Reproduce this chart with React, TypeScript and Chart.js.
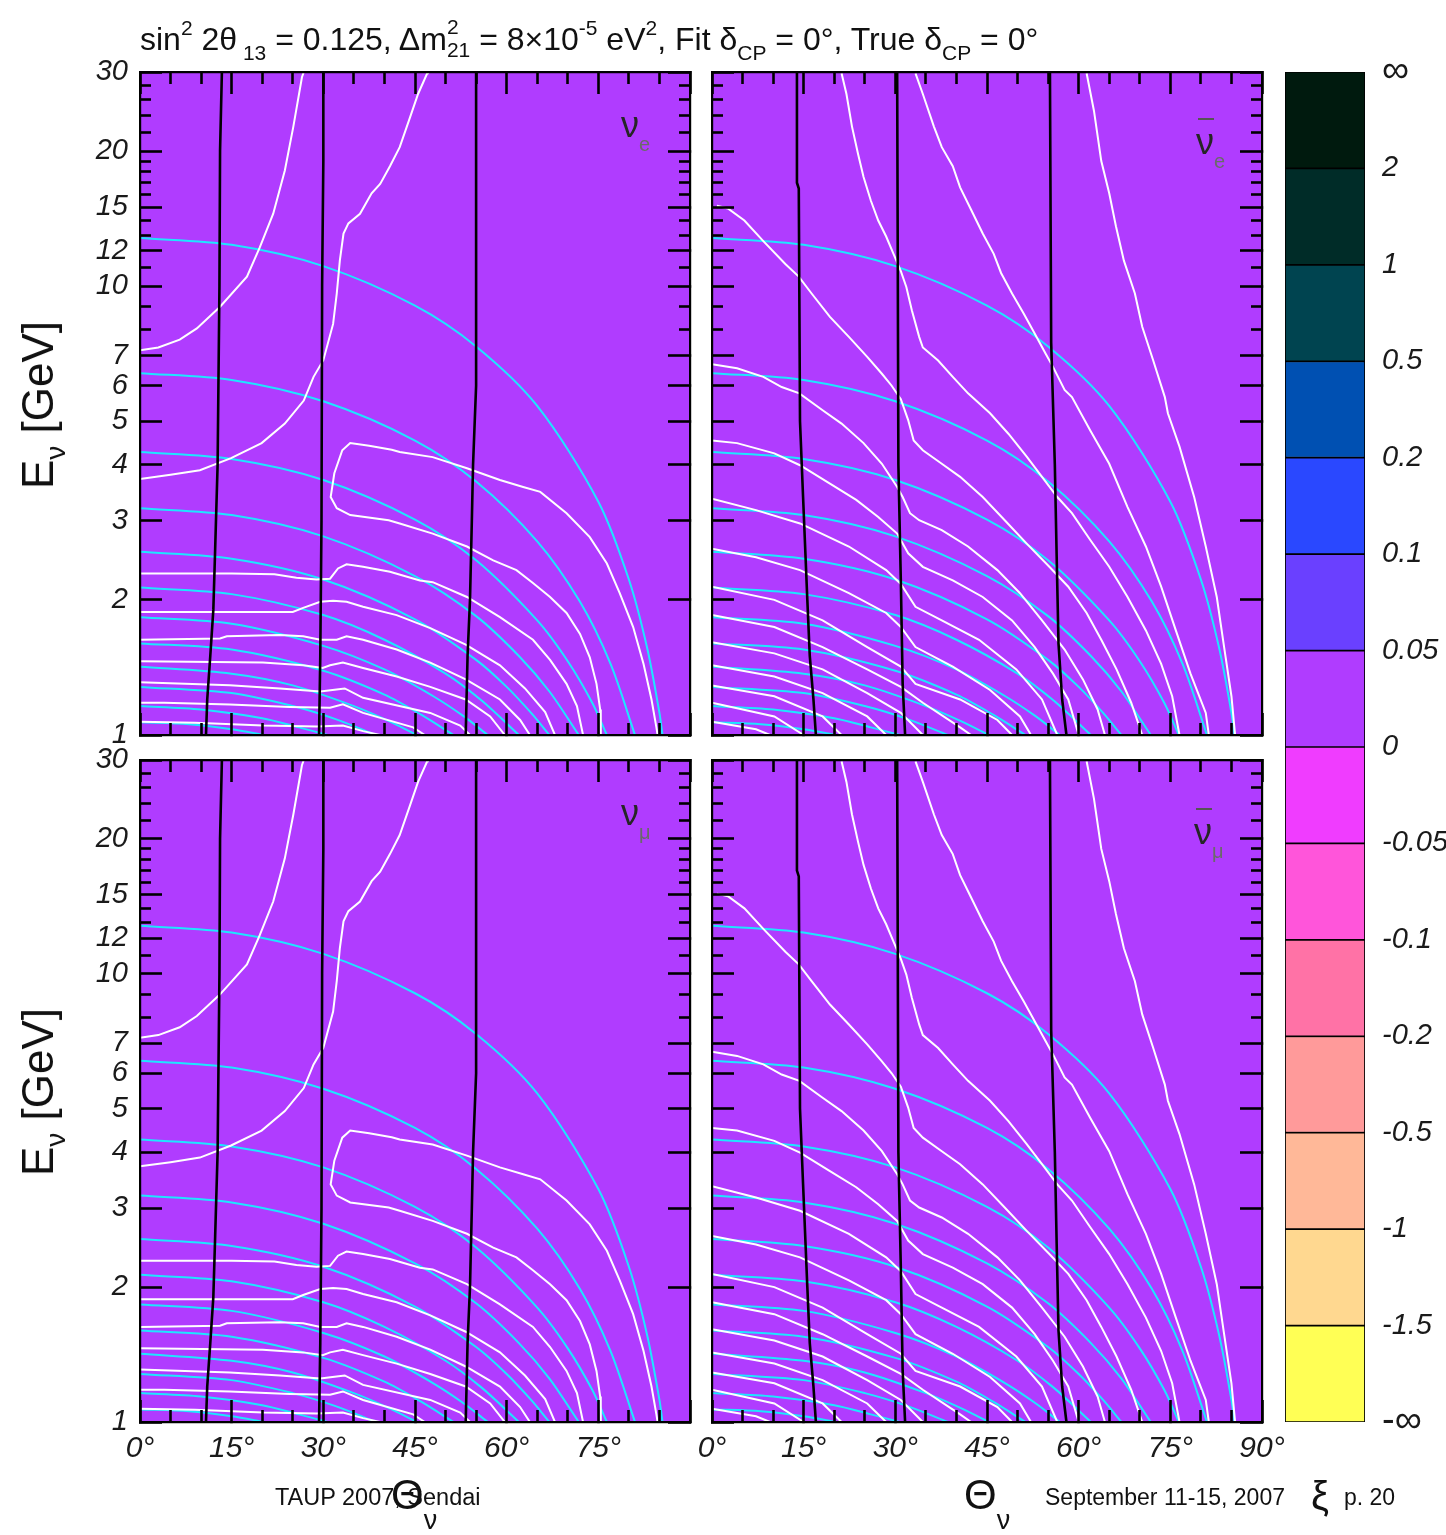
import React, { useEffect, useRef } from "react";
import { Chart, registerables } from "chart.js";

Chart.register(...registerables);

type Pt = [number, number];

const FONT = "'Liberation Sans', Helvetica, Arial, sans-serif";
const PURPLE = "#b03cff";
const CYAN = "#1ee6ff";
const WHITE = "#ffffff";
const BLACK = "#000000";

// ---------- axis ticks ----------
const Y_MAJOR_TICKS = [1, 2, 3, 4, 5, 6, 7, 10, 12, 15, 20, 30];
const Y_MINOR_TICKS = [8, 9, 11, 13, 14, 16, 17, 18, 19, 22, 24, 26, 28];
const X_MAJOR_TICKS = [0, 15, 30, 45, 60, 75, 90];
const X_MINOR_TICKS = [5, 10, 20, 25, 35, 40, 50, 55, 65, 70, 80, 85];
const X_LABELS_LEFT = [0, 15, 30, 45, 60, 75];
const X_LABELS_RIGHT = [0, 15, 30, 45, 60, 75, 90];

// ---------- colour bar ----------
const CB_TICK_VALUES = [0, 1, 2, 3, 4, 5, 6, 7, 8, 9, 10, 11, 12, 13, 14];
const CB_TICK_LABELS = ["-∞", "-1.5", "-1", "-0.5", "-0.2", "-0.1", "-0.05", "0", "0.05", "0.1", "0.2", "0.5", "1", "2", "∞"];
const CB_COLORS = ["#ffff55", "#ffd890", "#ffb898", "#ff9a9a", "#ff72a6", "#ff55da", "#f03cff", "#b03cff", "#6a40ff", "#2a48ff", "#0050b2", "#004450", "#002c28", "#001a0e"];

// ---------- cyan curves (same in all panels) [angle deg, E GeV] ----------
const CYAN_1: Pt[] = [[0, 12.8], [15, 12.36], [30, 11.08], [45, 9.05], [55, 7.34], [65, 5.41], [75, 3.31], [80, 2.22], [83, 1.56], [85, 1.12], [85.5, 1.0]];
const CYAN_2: Pt[] = [[0, 6.4], [15, 6.18], [30, 5.54], [45, 4.53], [55, 3.67], [65, 2.7], [72, 1.98], [77, 1.44], [81, 1.0]];
const CYAN_3: Pt[] = [[0, 4.27], [15, 4.12], [30, 3.7], [45, 3.02], [55, 2.45], [65, 1.8], [70, 1.46], [74, 1.18], [76.4, 1.0]];
const CYAN_4: Pt[] = [[0, 3.2], [15, 3.09], [30, 2.77], [45, 2.26], [55, 1.84], [62, 1.5], [67, 1.25], [71.8, 1.0]];
const CYAN_5: Pt[] = [[0, 2.56], [15, 2.47], [30, 2.22], [45, 1.81], [55, 1.47], [60, 1.28], [64, 1.12], [67, 1.0]];
const CYAN_6: Pt[] = [[0, 2.13], [15, 2.06], [30, 1.85], [40, 1.63], [50, 1.37], [56, 1.19], [62, 1.0]];
const CYAN_7: Pt[] = [[0, 1.83], [15, 1.77], [30, 1.58], [40, 1.4], [48, 1.22], [53, 1.1], [56.9, 1.0]];
const CYAN_8: Pt[] = [[0, 1.6], [15, 1.55], [30, 1.39], [40, 1.23], [46, 1.11], [51.3, 1.0]];
const CYAN_9: Pt[] = [[0, 1.42], [15, 1.37], [25, 1.29], [35, 1.16], [41, 1.07], [45.3, 1.0]];
const CYAN_10: Pt[] = [[0, 1.28], [15, 1.24], [25, 1.16], [32, 1.085], [38.6, 1.0]];
const CYAN_11: Pt[] = [[0, 1.16], [10, 1.14], [20, 1.09], [26, 1.04], [30.7, 1.0]];
const CYAN_12: Pt[] = [[0, 1.067], [8, 1.057], [15, 1.03], [20.4, 1.0]];
const CYAN_CURVES = [CYAN_1, CYAN_2, CYAN_3, CYAN_4, CYAN_5, CYAN_6, CYAN_7, CYAN_8, CYAN_9, CYAN_10, CYAN_11, CYAN_12];

// ---------- white curves, neutrino panels (left column) ----------
const NU_A: Pt[] = [[0, 7.2], [3, 7.3], [6.5, 7.6], [9.3, 8.05], [13.1, 9.0], [17.5, 10.5], [19.6, 12.2], [21.8, 14.5], [23.7, 18.1], [25.1, 22.7], [26.5, 29.2], [26.8, 30]];
const NU_B: Pt[] = [[0, 3.72], [5, 3.8], [9.8, 3.89], [14.9, 4.14], [19.9, 4.47], [23.7, 4.94], [26.8, 5.56], [28.4, 6.28], [30, 6.84], [31.6, 8.24], [32.2, 9.64], [32.7, 11.4], [33.3, 13.1], [34.1, 13.8], [36, 14.5], [37.9, 16.1], [39.3, 16.9], [40.9, 18.5], [42.5, 20.4], [44.2, 23.8], [45.5, 26.8], [47, 29.8], [47.1, 30]];
const NU_LOOP: Pt[] = [[84.7, 1.0], [84.5, 1.04], [83.7, 1.2], [82.4, 1.44], [80.7, 1.74], [78.5, 2.07], [76.4, 2.41], [73.6, 2.76], [69.8, 3.12], [65.5, 3.48], [62.7, 3.57], [58.9, 3.7], [53.5, 3.93], [47.9, 4.16], [42.5, 4.27], [41.2, 4.32], [37.5, 4.41], [34.4, 4.47], [33.1, 4.31], [31.8, 3.83], [31.2, 3.39], [32.2, 3.2], [34.4, 3.09], [40.7, 3.01], [42.5, 2.96], [47.9, 2.81], [53.5, 2.63], [57.8, 2.45], [61.6, 2.33], [64.3, 2.18], [67.1, 2.03], [69.8, 1.87], [72, 1.68], [73.6, 1.49], [74.7, 1.3], [75.3, 1.14], [75.4, 1.0]];
const NU_D1: Pt[] = [[0, 2.29], [15, 2.29], [22, 2.28], [25.6, 2.24], [28.9, 2.22], [31.1, 2.23], [32.4, 2.35], [33.8, 2.4], [36.5, 2.37], [40.9, 2.31], [45.8, 2.21], [47.9, 2.19], [53.5, 2.03], [58.9, 1.83], [64.3, 1.63], [67.1, 1.47], [69.8, 1.3], [71.5, 1.16], [72.5, 1.0]];
const NU_D2: Pt[] = [[0, 1.88], [15, 1.88], [25, 1.88], [26.7, 1.92], [29.5, 1.98], [31.6, 1.99], [33.8, 1.98], [36.5, 1.93], [42, 1.85], [47.5, 1.73], [53.3, 1.59], [58.9, 1.43], [63, 1.27], [66.3, 1.125], [67.9, 1.0]];
const NU_D3: Pt[] = [[0, 1.63], [13.1, 1.64], [14.2, 1.66], [22.9, 1.67], [26.7, 1.66], [29.5, 1.63], [32.2, 1.63], [33.8, 1.66], [36.5, 1.63], [42, 1.55], [47.5, 1.45], [53.3, 1.33], [58.9, 1.2], [62.2, 1.08], [63.8, 1.0]];
const NU_D4: Pt[] = [[0, 1.46], [20.1, 1.45], [26.7, 1.43], [29.9, 1.41], [31.1, 1.43], [33.2, 1.45], [36.5, 1.41], [42, 1.35], [47.5, 1.28], [53.3, 1.2], [57.3, 1.1], [59.7, 1.0]];
const NU_D5: Pt[] = [[0, 1.31], [14.7, 1.29], [22.9, 1.27], [29.5, 1.25], [31.5, 1.26], [33.5, 1.27], [36.5, 1.21], [47.5, 1.12], [52.4, 1.05], [54, 1.0]];
const NU_D6: Pt[] = [[0, 1.18], [4, 1.18], [14.7, 1.17], [24.5, 1.155], [31.1, 1.15], [33.2, 1.17], [36.5, 1.12], [44.7, 1.04], [46.6, 1.0]];
const NU_D7: Pt[] = [[0, 1.07], [9, 1.065], [20.1, 1.05], [28.9, 1.045], [33.2, 1.05], [36.5, 1.02], [39.3, 1.0]];
const WHITE_NU = [NU_A, NU_B, NU_LOOP, NU_D1, NU_D2, NU_D3, NU_D4, NU_D5, NU_D6, NU_D7];

// ---------- white curves, anti-neutrino panels (right column) ----------
const NB_R0: Pt[] = [[61.3, 29.8], [62.5, 24.6], [63.7, 19.0], [65, 16.1], [66.1, 13.6], [67.4, 11.4], [69.2, 9.63], [70.4, 8.12], [72.2, 6.83], [74.1, 5.66], [74.6, 5.21], [76.5, 4.39], [78.9, 3.39], [80.8, 2.63], [82.6, 2.03], [83.8, 1.57], [85.0, 1.22], [85.6, 1.0]];
const NB_RM: Pt[] = [[33.3, 29.8], [34.5, 26.8], [36.3, 22.7], [37.6, 20.4], [39.4, 18.5], [40.6, 16.6], [42.4, 14.8], [44.3, 13.1], [46.1, 11.8], [47.3, 10.7], [49.1, 9.63], [51, 8.69], [52.8, 7.84], [54.6, 7.07], [55.8, 6.61], [57.7, 5.87], [58.9, 5.66], [61.9, 4.77], [65, 4.02], [68, 3.22], [71, 2.63], [73.5, 2.14], [75.9, 1.71], [78.3, 1.37], [80.8, 1.12], [81.3, 1.0]];
const NB_R1: Pt[] = [[21.2, 29.8], [22, 26.8], [22.9, 22.7], [23.9, 19.7], [24.8, 17.5], [26, 15.5], [27.2, 14.0], [28.5, 12.9], [29.7, 11.8], [30.9, 10.8], [31.8, 9.96], [32.7, 8.84], [33.9, 7.71], [34.5, 7.3], [37, 6.83], [39.4, 6.28], [41.9, 5.77], [45.5, 5.21], [48.5, 4.69], [51.5, 4.17], [54, 3.76], [56.5, 3.39], [58.9, 3.12], [61.9, 2.72], [65, 2.37], [68, 2.03], [71, 1.71], [73.5, 1.44], [75.3, 1.22], [76.5, 1.0]];
const NB_R2: Pt[] = [[0.8, 15.1], [2.6, 14.9], [5.3, 14.0], [8.4, 12.6], [12, 11.2], [14.2, 10.5], [16.3, 9.63], [19.3, 8.54], [22.4, 7.71], [25.4, 6.96], [27.8, 6.38], [29.4, 6.0], [30.9, 5.6], [32.1, 5.03], [33, 4.53], [34.5, 4.31], [37.6, 4.02], [40.6, 3.76], [44.3, 3.39], [47.9, 3.01], [51.5, 2.67], [55.2, 2.37], [58.3, 2.14], [61.3, 1.87], [63.7, 1.63], [66.2, 1.4], [68.6, 1.18], [70.4, 1.0]];
const NB_R3: Pt[] = [[0, 6.7], [4.1, 6.56], [8.4, 6.28], [11.4, 5.96], [14.3, 5.77], [18.1, 5.29], [21.2, 4.94], [24.8, 4.47], [27.8, 4.02], [30.3, 3.57], [31.2, 3.39], [32.4, 3.12], [33.9, 3.01], [37.6, 2.86], [41.9, 2.63], [46.7, 2.33], [50.4, 2.07], [54, 1.8], [57.7, 1.55], [60.7, 1.33], [63.1, 1.14], [64.3, 1.0]];
const NB_R4: Pt[] = [[0, 4.53], [4.1, 4.47], [10.2, 4.24], [14.4, 3.99], [19.3, 3.63], [23.6, 3.34], [27.2, 3.06], [30.3, 2.81], [32.1, 2.54], [34.5, 2.37], [39.4, 2.21], [44.3, 2.03], [49.1, 1.8], [52.8, 1.57], [55.8, 1.37], [58.3, 1.2], [60, 1.0]];
const NB_R5: Pt[] = [[0, 3.36], [7.2, 3.17], [14.4, 2.96], [22.4, 2.63], [28.5, 2.33], [30.9, 2.17], [33.3, 1.93], [37.6, 1.8], [43.7, 1.63], [49.8, 1.4], [54, 1.2], [56.5, 1.0]];
const NB_R6: Pt[] = [[0, 2.6], [7.2, 2.49], [14.4, 2.33], [22.4, 2.07], [28.5, 1.87], [30.9, 1.74], [33.3, 1.57], [39.4, 1.42], [45.5, 1.26], [50.4, 1.1], [52.2, 1.0]];
const NB_R7: Pt[] = [[0, 2.14], [10.2, 2.0], [18.1, 1.8], [25.4, 1.57], [30.9, 1.42], [33.3, 1.3], [40.6, 1.2], [46.7, 1.08], [49.1, 1.0]];
const NB_R8: Pt[] = [[0, 1.85], [10.2, 1.74], [18.1, 1.57], [25.4, 1.4], [30.9, 1.28], [34.5, 1.18], [40.6, 1.04], [42.4, 1.0]];
const NB_R9: Pt[] = [[0, 1.61], [10.2, 1.52], [18.1, 1.4], [25.4, 1.24], [30.9, 1.12], [34.5, 1.0]];
const NB_R10: Pt[] = [[0, 1.43], [10.2, 1.35], [18.1, 1.24], [25.4, 1.1], [28.5, 1.0]];
const NB_R11: Pt[] = [[0, 1.29], [10.2, 1.22], [18.1, 1.1], [21.2, 1.0]];
const NB_R12: Pt[] = [[0, 1.18], [10.2, 1.1], [15, 1.0]];
const NB_R13: Pt[] = [[0, 1.07], [7.2, 1.03], [9.5, 1.0]];
const WHITE_NUBAR = [NB_R0, NB_RM, NB_R1, NB_R2, NB_R3, NB_R4, NB_R5, NB_R6, NB_R7, NB_R8, NB_R9, NB_R10, NB_R11, NB_R12, NB_R13];

// ---------- black (zero) contours ----------
const NU_K1: Pt[] = [[13.4, 30], [13.1, 20], [13.0, 10], [12.7, 4.0], [12.3, 2.6], [12.0, 1.9], [11.5, 1.5], [11.0, 1.2], [10.8, 1.0]];
const NU_K2: Pt[] = [[30, 30], [30, 19], [29.8, 10], [29.7, 3], [29.5, 1.5], [29.3, 1.0]];
const NU_K3: Pt[] = [[55, 30], [55, 6], [54.5, 4], [54.3, 3], [54.0, 2], [53.6, 1.5], [53.3, 1.0]];
const BLACK_NU = [NU_K1, NU_K2, NU_K3];
const NB_K1: Pt[] = [[13.9, 30], [13.9, 17], [14.2, 16.5], [14.4, 5], [14.9, 3.4], [15.6, 2.0], [16.0, 1.5], [16.6, 1.2], [17.0, 1.0]];
const NB_K2: Pt[] = [[30.3, 30], [30.5, 4.0], [30.9, 2.2], [31.2, 1.3], [31.6, 1.0]];
const NB_K3: Pt[] = [[55.3, 30], [55.5, 7.5], [56.1, 4], [56.4, 2.5], [56.7, 1.6], [57.3, 1.2], [58, 1.0]];
const BLACK_NUBAR = [NB_K1, NB_K2, NB_K3];

// ---------- helpers ----------
const xTickFont = { family: FONT, size: 30, style: "italic" as const };
const yTickFont = { family: FONT, size: 29, style: "italic" as const };

const bgPlugin = {
  id: "areaBg",
  beforeDraw(chart: any, _args: any, opts: any) {
    const a = chart.chartArea;
    if (!a || !opts || !opts.color) return;
    const ctx = chart.ctx;
    ctx.save();
    ctx.fillStyle = opts.color;
    ctx.fillRect(a.left, a.top, a.right - a.left, a.bottom - a.top);
    ctx.restore();
  },
};

function setTicks(values: number[]) {
  return (scale: any) => {
    scale.ticks = values.map((v) => ({ value: v }));
  };
}
function setSize(size: number) {
  return (scale: any) => {
    if (scale.isHorizontal()) scale.height = size;
    else scale.width = size;
    scale.paddingTop = 0;
    scale.paddingBottom = 0;
    scale.paddingLeft = 0;
    scale.paddingRight = 0;
  };
}

function axis(
  kind: "x" | "y",
  position: string,
  weight: number,
  values: number[],
  size: number,
  tickLen: number,
  labels?: (v: number) => string,
  padding = 0,
  border = false
) {
  const range = kind === "x" ? { type: "linear", min: 0, max: 90 } : { type: "logarithmic", min: 1, max: 30 };
  return {
    ...range,
    position,
    weight,
    display: true,
    afterBuildTicks: setTicks(values),
    afterFit: setSize(size),
    grid: { display: true, drawOnChartArea: false, drawTicks: true, tickLength: -tickLen, tickWidth: 2.6, tickColor: BLACK, z: 1 },
    border: { display: border, color: BLACK, width: 2.2, z: 1 },
    ticks: {
      display: !!labels,
      autoSkip: false,
      maxRotation: 0,
      minRotation: 0,
      padding,
      font: kind === "x" ? xTickFont : yTickFont,
      color: "#1a1a1a",
      callback: labels ? (v: any) => labels(Number(v)) : () => "",
    },
  };
}

function lineSet(pts: Pt[], color: string, width: number, tension = 0) {
  return {
    data: pts.map(([x, y]) => ({ x, y })),
    borderColor: color,
    backgroundColor: color,
    borderWidth: width,
    pointRadius: 0,
    showLine: true,
    fill: false,
    tension,
    xAxisID: "x",
    yAxisID: "y",
  };
}

type PanelSpec = {
  left: number;
  top: number;
  width: number;
  height: number;
  area: { l: number; t: number; r: number; b: number };
  yLabels: boolean;
  xLabels: number[] | null;
  white: Pt[][];
  black: Pt[][];
};

function panelConfig(p: PanelSpec) {
  const inL = p.area.l - p.left;
  const inT = p.area.t - p.top;
  const inR = p.left + p.width - p.area.r;
  const inB = p.top + p.height - p.area.b;
  const xl = p.xLabels;
  return {
    type: "scatter",
    data: {
      datasets: [
        ...p.black.map((c) => lineSet(c, BLACK, 2.6)),
        ...p.white.map((c) => lineSet(c, WHITE, 2)),
        ...CYAN_CURVES.map((c) => lineSet(c, CYAN, 2, 0.3)),
      ],
    },
    options: {
      animation: false,
      responsive: false,
      maintainAspectRatio: false,
      events: [],
      layout: { padding: 0 },
      plugins: { legend: { display: false }, tooltip: { enabled: false }, areaBg: { color: PURPLE } },
      scales: {
        // outer (weight 1) axes carry the long ticks, labels and frame; inner ones (size 0) the short ticks
        x: axis("x", "bottom", 1, X_MAJOR_TICKS, inB, 22, xl ? (v) => (xl.includes(v) ? `${v}°` : "") : undefined, 31, true),
        xm: axis("x", "bottom", 0, X_MINOR_TICKS, 0, 12),
        xt: axis("x", "top", 1, X_MAJOR_TICKS, inT, 22, undefined, 0, true),
        xtm: axis("x", "top", 0, X_MINOR_TICKS, 0, 12),
        y: axis("y", "left", 1, Y_MAJOR_TICKS, inL, 22, p.yLabels ? (v) => String(v) : undefined, 34, true),
        ym: axis("y", "left", 0, Y_MINOR_TICKS, 0, 11),
        yr: axis("y", "right", 1, Y_MAJOR_TICKS, inR, 22, undefined, 0, true),
        yrm: axis("y", "right", 0, Y_MINOR_TICKS, 0, 11),
      },
    },
    plugins: [bgPlugin],
  };
}

function colorbarConfig() {
  return {
    type: "bar",
    data: {
      labels: [""],
      datasets: CB_COLORS.map((c) => ({
        data: [1],
        backgroundColor: c,
        borderColor: BLACK,
        borderWidth: 1.2,
        borderSkipped: false,
        barPercentage: 1,
        categoryPercentage: 1,
      })),
    },
    options: {
      animation: false,
      responsive: false,
      maintainAspectRatio: false,
      events: [],
      layout: { padding: { left: 15, top: 32, bottom: 38, right: 0 } },
      plugins: { legend: { display: false }, tooltip: { enabled: false } },
      scales: {
        x: { stacked: true, display: false },
        y: {
          stacked: true,
          position: "right",
          min: 0,
          max: 14,
          afterBuildTicks: setTicks(CB_TICK_VALUES),
          afterFit: setSize(81),
          grid: { display: false, drawTicks: false },
          border: { display: false },
          ticks: {
            autoSkip: false,
            padding: 17,
            font: (c: any) => {
              const inf = c.index === 0 || c.index === 14;
              return { family: FONT, size: inf ? 38 : 29, style: inf ? "normal" : "italic" };
            },
            color: "#1a1a1a",
            callback: (v: any) => CB_TICK_LABELS[Math.round(Number(v))],
          },
        },
      },
    },
  };
}

function ChartCanvas({ left, top, width, height, make }: { left: number; top: number; width: number; height: number; make: () => any }) {
  const ref = useRef<HTMLCanvasElement>(null);
  useEffect(() => {
    const chart = new Chart(ref.current as HTMLCanvasElement, make());
    return () => chart.destroy();
  }, []);
  return <canvas ref={ref} width={width} height={height} style={{ position: "absolute", left, top, width, height }} />;
}

const PANELS: PanelSpec[] = [
  { left: 0, top: 40, width: 710, height: 730, area: { l: 140, t: 72, r: 690, b: 735 }, yLabels: true, xLabels: null, white: WHITE_NU, black: BLACK_NU },
  { left: 690, top: 40, width: 600, height: 730, area: { l: 712, t: 72, r: 1262, b: 735 }, yLabels: false, xLabels: null, white: WHITE_NUBAR, black: BLACK_NUBAR },
  { left: 0, top: 730, width: 710, height: 770, area: { l: 140, t: 760, r: 690, b: 1422 }, yLabels: true, xLabels: X_LABELS_LEFT, white: WHITE_NU, black: BLACK_NU },
  { left: 690, top: 730, width: 620, height: 770, area: { l: 712, t: 760, r: 1262, b: 1422 }, yLabels: false, xLabels: X_LABELS_RIGHT, white: WHITE_NUBAR, black: BLACK_NUBAR },
];

const sub = (size: number, dy: number, color?: string): React.CSSProperties => ({ fontSize: size, position: "relative", top: dy, color });

function NuLabel({ left, top, bar, flavour }: { left: number; top: number; bar: boolean; flavour: string }) {
  return (
    <div style={{ position: "absolute", left, top, fontFamily: FONT, fontSize: 36, lineHeight: "36px", color: "#262626", whiteSpace: "nowrap" }}>
      <span style={{ position: "relative" }}>
        {bar && <span style={{ position: "absolute", left: 2, top: -3, width: 16, height: 2, background: "#555" }} />}
        ν
      </span>
      <span style={sub(20, 14, "#6a6a6a")}>{flavour}</span>
    </div>
  );
}

export default function App() {
  const base: React.CSSProperties = { position: "absolute", fontFamily: FONT, color: "#111", whiteSpace: "nowrap" };
  return (
    <div style={{ position: "absolute", left: 0, top: 0, width: 1446, height: 1535, background: "#fff", overflow: "hidden" }}>
      {PANELS.map((p, i) => (
        <ChartCanvas key={i} left={p.left} top={p.top} width={p.width} height={p.height} make={() => panelConfig(p)} />
      ))}
      <ChartCanvas left={1270} top={40} width={176} height={1420} make={colorbarConfig} />

      {/* title */}
      <div style={{ ...base, left: 140, top: 18, fontSize: 32, lineHeight: "42px" }}>
        sin<span style={sub(21, -15)}>2</span> 2θ<span style={sub(21, 10)}> 13</span> = 0.125, Δm
        <span style={{ display: "inline-flex", flexDirection: "column", fontSize: 21, lineHeight: "23px", verticalAlign: "middle", position: "relative", top: -4 }}>
          <span>2</span>
          <span>21</span>
        </span>{" "}
        = 8×10<span style={sub(21, -15)}>-5</span> eV<span style={sub(21, -15)}>2</span>, Fit δ<span style={sub(21, 10)}>CP</span> = 0°, True δ
        <span style={sub(21, 10)}>CP</span> = 0°
      </div>

      {/* y axis titles */}
      <div style={{ ...base, left: 38, top: 405, fontSize: 44, transform: "translate(-50%, -50%) rotate(-90deg)" }}>
        E<span style={sub(28, 12)}>ν</span> [GeV]
      </div>
      <div style={{ ...base, left: 38, top: 1092, fontSize: 44, transform: "translate(-50%, -50%) rotate(-90deg)" }}>
        E<span style={sub(28, 12)}>ν</span> [GeV]
      </div>

      {/* x axis titles */}
      <div style={{ ...base, left: 391, top: 1472, fontSize: 42, lineHeight: "46px" }}>
        Θ<span style={sub(27, 20)}>ν</span>
      </div>
      <div style={{ ...base, left: 964, top: 1472, fontSize: 42, lineHeight: "46px" }}>
        Θ<span style={sub(27, 20)}>ν</span>
      </div>

      {/* panel flavour labels */}
      <NuLabel left={621} top={107} bar={false} flavour="e" />
      <NuLabel left={1196} top={124} bar={true} flavour="e" />
      <NuLabel left={621} top={795} bar={false} flavour="μ" />
      <NuLabel left={1194} top={814} bar={true} flavour="μ" />

      {/* footer */}
      <div style={{ ...base, left: 275, top: 1484, fontSize: 23.5 }}>TAUP 2007, Sendai</div>
      <div style={{ ...base, left: 1045, top: 1484, fontSize: 23 }}>September 11-15, 2007</div>
      <div style={{ ...base, left: 1311, top: 1474, fontSize: 40 }}>ξ</div>
      <div style={{ ...base, left: 1344, top: 1484, fontSize: 23 }}>p. 20</div>
    </div>
  );
}
